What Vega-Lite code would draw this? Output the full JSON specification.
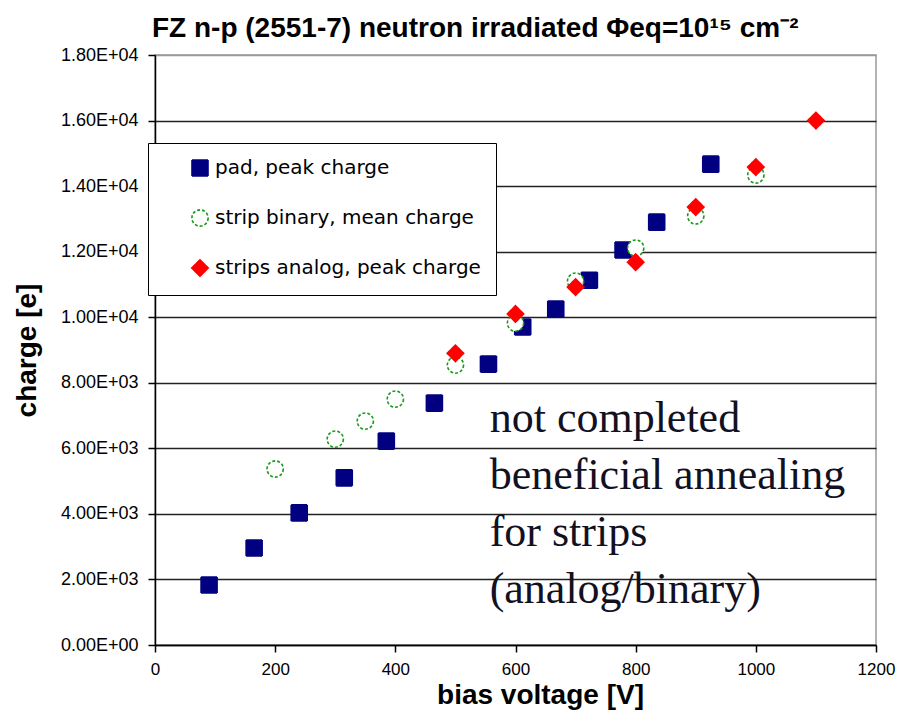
{
  "$schema": "https://vega.github.io/schema/vega-lite/v6.json",
  "autosize": {"type": "none"},
  "padding": {"left": 155, "top": 55, "right": 21, "bottom": 81},
  "width": 721,
  "height": 590,
  "background": "white",
  "config": {
    "view": {"stroke": "#999999", "strokeWidth": 1.5},
    "font": "Liberation Sans"
  },
  "title": {
    "text": "FZ n-p (2551-7) neutron irradiated Φeq=10¹⁵ cm⁻²",
    "anchor": "start",
    "frame": "group",
    "offset": 3,
    "dx": -3,
    "font": "Liberation Sans",
    "fontSize": 28,
    "fontWeight": "bold",
    "color": "#000000"
  },
  "datasets": {
    "points": [
      {"series": "pad, peak charge", "voltage": 90, "charge": 1830},
      {"series": "pad, peak charge", "voltage": 165, "charge": 2960},
      {"series": "pad, peak charge", "voltage": 240, "charge": 4030},
      {"series": "pad, peak charge", "voltage": 315, "charge": 5100},
      {"series": "pad, peak charge", "voltage": 385, "charge": 6220},
      {"series": "pad, peak charge", "voltage": 465, "charge": 7380},
      {"series": "pad, peak charge", "voltage": 555, "charge": 8570},
      {"series": "pad, peak charge", "voltage": 612, "charge": 9700},
      {"series": "pad, peak charge", "voltage": 667, "charge": 10250},
      {"series": "pad, peak charge", "voltage": 723, "charge": 11130},
      {"series": "pad, peak charge", "voltage": 779, "charge": 12050},
      {"series": "pad, peak charge", "voltage": 835, "charge": 12900},
      {"series": "pad, peak charge", "voltage": 925, "charge": 14670},
      {"series": "strip binary, mean charge", "voltage": 200, "charge": 5370},
      {"series": "strip binary, mean charge", "voltage": 300, "charge": 6280},
      {"series": "strip binary, mean charge", "voltage": 350, "charge": 6830},
      {"series": "strip binary, mean charge", "voltage": 400, "charge": 7500},
      {"series": "strip binary, mean charge", "voltage": 500, "charge": 8540},
      {"series": "strip binary, mean charge", "voltage": 600, "charge": 9820},
      {"series": "strip binary, mean charge", "voltage": 700, "charge": 11100},
      {"series": "strip binary, mean charge", "voltage": 800, "charge": 12110},
      {"series": "strip binary, mean charge", "voltage": 900, "charge": 13090},
      {"series": "strip binary, mean charge", "voltage": 1000, "charge": 14340},
      {"series": "strips analog, peak charge", "voltage": 500, "charge": 8900},
      {"series": "strips analog, peak charge", "voltage": 600, "charge": 10100},
      {"series": "strips analog, peak charge", "voltage": 700, "charge": 10920},
      {"series": "strips analog, peak charge", "voltage": 800, "charge": 11680},
      {"series": "strips analog, peak charge", "voltage": 900, "charge": 13360},
      {"series": "strips analog, peak charge", "voltage": 1000, "charge": 14580},
      {"series": "strips analog, peak charge", "voltage": 1100, "charge": 16000}
    ],
    "note": [
      {"text": "not completed\nbeneficial annealing\nfor strips\n(analog/binary)"}
    ]
  },
  "layer": [
    {
      "data": {"name": "points"},
      "mark": {"type": "point", "filled": false, "opacity": 1, "strokeWidth": 1.6},
      "encoding": {
        "x": {
          "field": "voltage",
          "type": "quantitative",
          "scale": {"domain": [0, 1200], "nice": false},
          "axis": {
            "title": "bias voltage [V]",
            "values": [0, 200, 400, 600, 800, 1000, 1200],
            "format": "d",
            "grid": false,
            "domainColor": "#000000",
            "domainWidth": 1.5,
            "tickColor": "#000000",
            "tickWidth": 1.5,
            "tickSize": 7,
            "labelFont": "Liberation Sans",
            "labelFontSize": 17,
            "labelColor": "#000000",
            "labelPadding": 9,
            "labelFlush": false,
            "labelOverlap": false,
            "titleFont": "Liberation Sans",
            "titleFontSize": 28,
            "titleFontWeight": "bold",
            "titleColor": "#000000",
            "titlePadding": 4,
            "titleX": 385
          }
        },
        "y": {
          "field": "charge",
          "type": "quantitative",
          "scale": {"domain": [0, 18000], "nice": false},
          "axis": {
            "title": "charge [e]",
            "values": [0, 2000, 4000, 6000, 8000, 10000, 12000, 14000, 16000, 18000],
            "labelExpr": "datum.value == 0 ? '0.00E+00' : (datum.value < 10000 ? format(datum.value / 1000, '.2f') + 'E+03' : format(datum.value / 10000, '.2f') + 'E+04')",
            "grid": true,
            "gridColor": {"condition": {"test": "datum.value == 18000", "value": "#999999"}, "value": "#222222"},
            "gridWidth": 1.5,
            "domainColor": "#000000",
            "domainWidth": 1.5,
            "tickColor": "#000000",
            "tickWidth": 1.5,
            "tickSize": 7,
            "labelFont": "Liberation Sans",
            "labelFontSize": 18,
            "labelColor": "#000000",
            "labelPadding": 10,
            "labelFlush": false,
            "titleFont": "Liberation Sans",
            "titleFontSize": 28,
            "titleFontWeight": "bold",
            "titleColor": "#000000",
            "titlePadding": 19
          }
        },
        "shape": {
          "field": "series",
          "type": "nominal",
          "scale": {
            "domain": ["pad, peak charge", "strip binary, mean charge", "strips analog, peak charge"],
            "range": ["square", "circle", "diamond"]
          },
          "legend": {
            "title": null,
            "orient": "none",
            "legendX": -7,
            "legendY": 88,
            "padding": 15,
            "fillColor": "white",
            "strokeColor": "#000000",
            "labelFont": "DejaVu Sans",
            "labelFontSize": 20,
            "labelColor": "#000000",
            "labelLimit": 500,
            "labelOffset": 5,
            "symbolOffset": 27,
            "rowPadding": 26,
            "symbolStrokeWidth": 1.6
          }
        },
        "fill": {
          "field": "series",
          "type": "nominal",
          "scale": {
            "domain": ["pad, peak charge", "strip binary, mean charge", "strips analog, peak charge"],
            "range": ["#000080", "#ffffff", "#ff0000"]
          }
        },
        "stroke": {
          "field": "series",
          "type": "nominal",
          "scale": {
            "domain": ["pad, peak charge", "strip binary, mean charge", "strips analog, peak charge"],
            "range": ["#000080", "#1a9a1a", "#ff0000"]
          }
        },
        "strokeDash": {
          "field": "series",
          "type": "nominal",
          "scale": {
            "domain": ["pad, peak charge", "strip binary, mean charge", "strips analog, peak charge"],
            "range": [[1, 0], [3, 2], [1, 0]]
          }
        },
        "size": {
          "field": "series",
          "type": "nominal",
          "scale": {
            "domain": ["pad, peak charge", "strip binary, mean charge", "strips analog, peak charge"],
            "range": [256, 270, 340]
          }
        }
      }
    },
    {
      "data": {"name": "note"},
      "mark": {
        "type": "text",
        "align": "left",
        "baseline": "alphabetic",
        "lineBreak": "\n",
        "lineHeight": 57,
        "font": "Liberation Serif",
        "fontSize": 44,
        "color": "#111122"
      },
      "encoding": {
        "x": {"datum": 557},
        "y": {"datum": 6500},
        "text": {"field": "text", "type": "nominal"}
      }
    }
  ]
}
